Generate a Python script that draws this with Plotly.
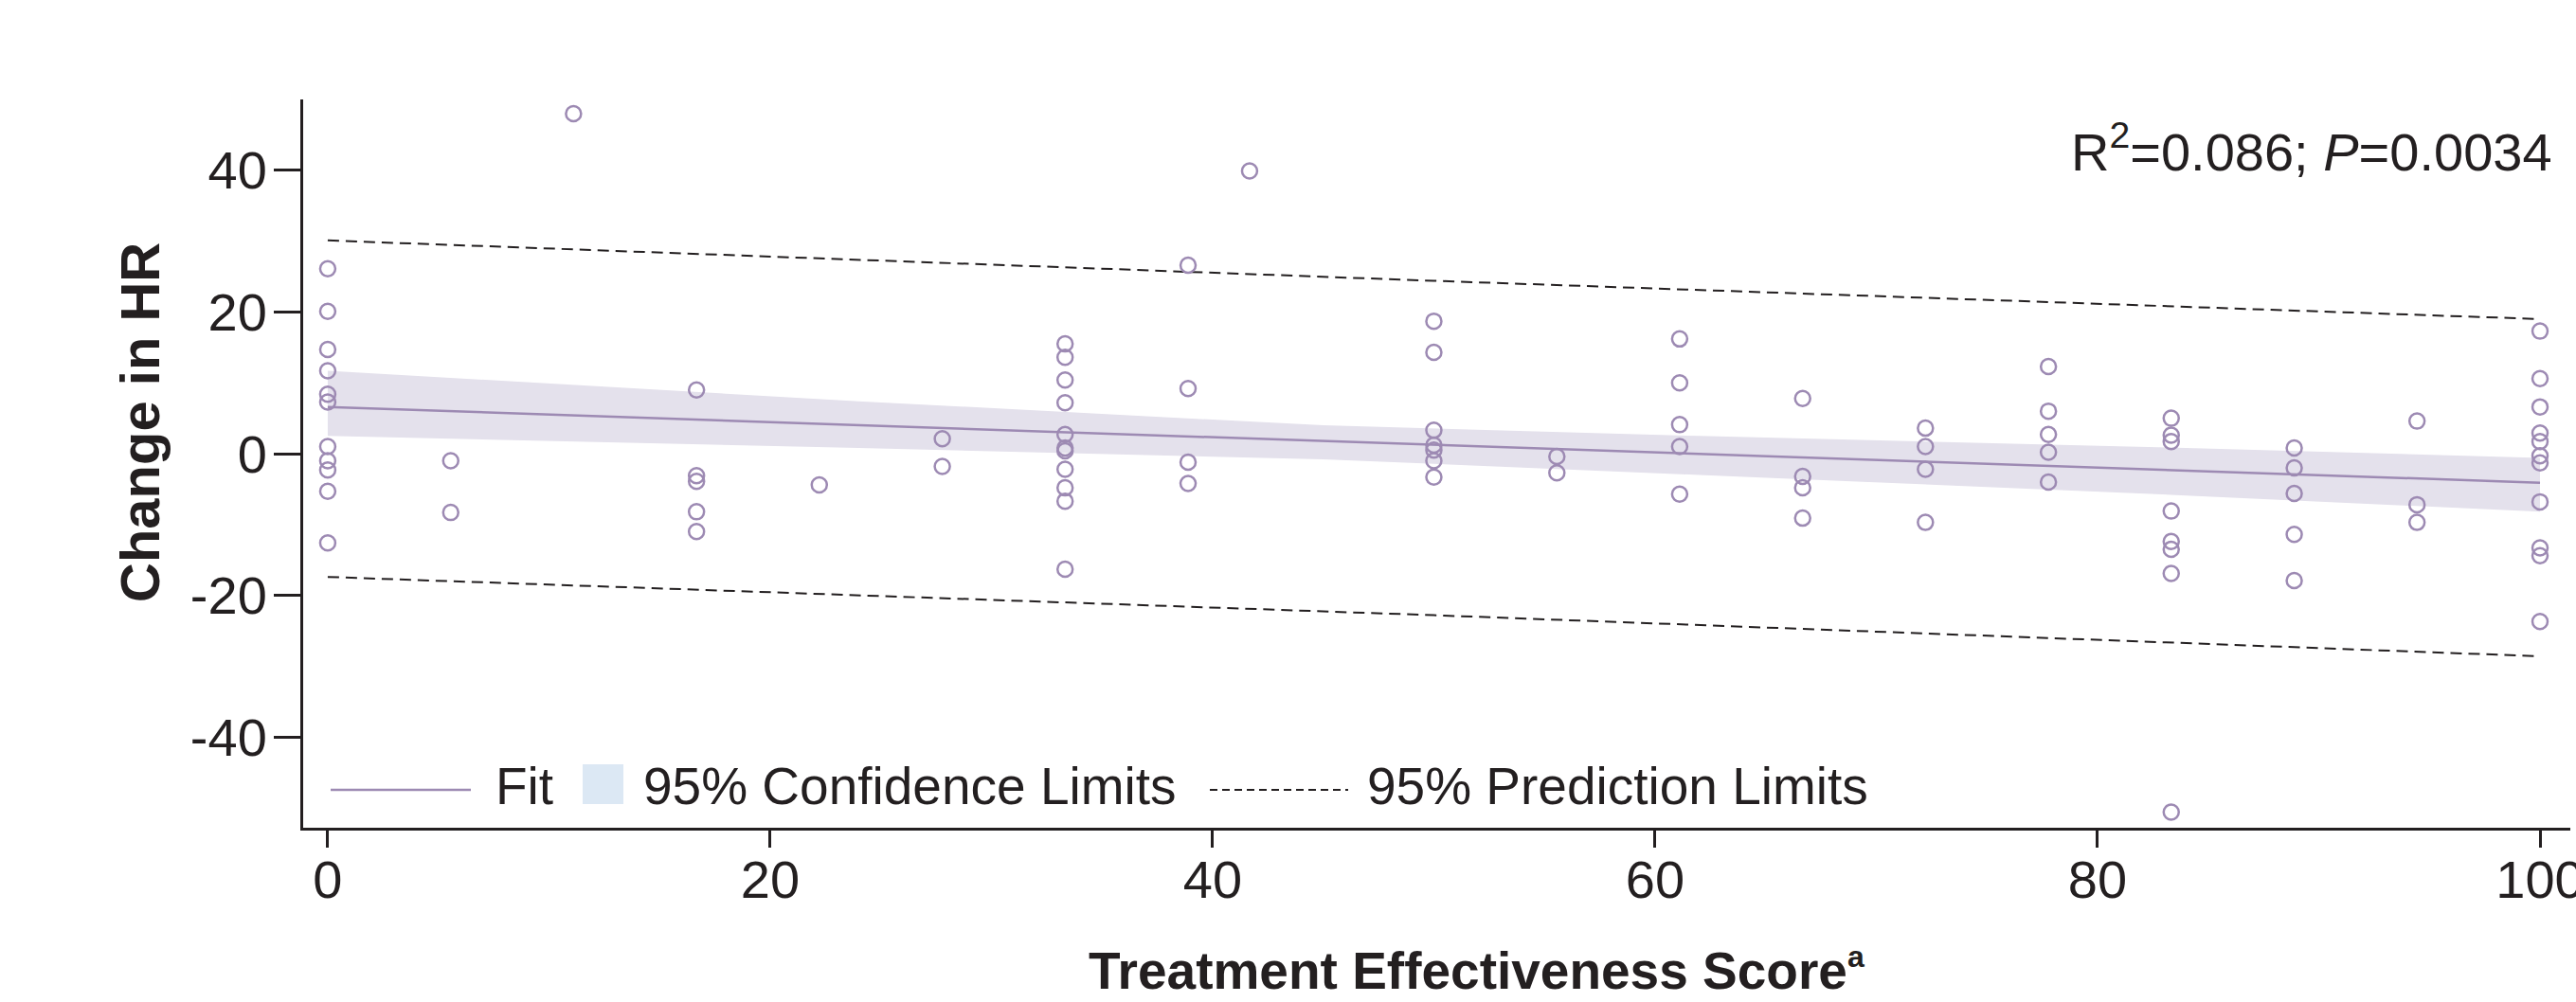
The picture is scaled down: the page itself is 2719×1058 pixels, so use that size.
import plotly.graph_objects as go

# ---- data -------------------------------------------------------------
# treatment effectiveness score (x) and change in heart rate (y), per patient
score = (
    [0.0] * 11 + [5.56] * 2 + [11.11] + [16.67] * 5 + [22.22] + [27.78] * 2
    + [33.33] * 11 + [38.89] * 4 + [41.67] + [50.0] * 7 + [55.56] * 2
    + [61.11] * 5 + [66.67] * 4 + [72.22] * 4 + [77.78] * 5 + [83.33] * 8
    + [88.89] * 5 + [94.44] * 3 + [100.0] * 11
)
change_hr = [
    26.1, 20.1, 14.7, 11.7, 8.4, 7.3, 1.0, -1.0, -2.3, -5.3, -12.6,   # 0
    -1.0, -8.3,                                                        # 5.56
    48.0,                                                              # 11.11
    9.0, -3.1, -3.9, -8.2, -11.0,                                      # 16.67
    -4.4,                                                              # 22.22
    2.1, -1.8,                                                         # 27.78
    15.5, 13.6, 10.4, 7.2, 2.7, 0.8, 0.4, -2.2, -4.8, -6.7, -16.3,     # 33.33
    26.6, 9.2, -1.2, -4.2,                                             # 38.89
    39.9,                                                              # 41.67
    18.7, 14.3, 3.3, 1.2, 0.5, -1.0, -3.3,                             # 50
    -0.4, -2.7,                                                        # 55.56
    16.2, 10.0, 4.1, 1.0, -5.7,                                        # 61.11
    7.8, -3.2, -4.8, -9.1,                                             # 66.67
    3.6, 1.0, -2.2, -9.7,                                              # 72.22
    12.3, 6.0, 2.7, 0.2, -4.0,                                         # 77.78
    5.0, 2.6, 1.7, -8.1, -12.4, -13.5, -16.9, -50.6,                   # 83.33
    0.8, -2.0, -5.6, -11.4, -17.9,                                     # 88.89
    4.6, -7.2, -9.7,                                                   # 94.44
    17.3, 10.6, 6.6, 2.9, 1.7, -0.3, -1.3, -6.8, -13.3, -14.4, -23.7,  # 100
]

# fitted regression line
fit_x = [0, 100]
fit_y = [6.6, -4.1]

# 95% confidence limits of the mean
ci_x = [0, 24, 45, 62, 84, 100]
ci_upper = [11.7, 7.4, 4.0, 2.5, 0.8, -0.6]
ci_lower = [2.5, 0.8, -0.8, -3.0, -5.9, -8.2]

# 95% prediction limits
pi_x = [0, 50, 100]
pi_upper = [30.1, 24.4, 19.0]
pi_lower = [-17.4, -22.8, -28.6]

# axis ticks
x_ticks = [0, 20, 40, 60, 80, 100]
x_tick_text = ["0", "20", "40", "60", "80", "100"]
y_ticks = [-40, -20, 0, 20, 40]
y_tick_text = ["-40", "-20", "0", "20", "40"]

stats_text = "R<sup>2</sup>=0.086; <i>P</i>=0.0034"
legend_labels = ["Fit", "95% Confidence Limits", "95% Prediction Limits"]
x_title = ("<b>Treatment Effectiveness Score"
           "<sup><span style='font-size:32px'>a</span></sup></b>")
y_title = "<b>Change in HR</b>"

# ---- styling ----------------------------------------------------------
W, H = 2719, 1058
ML, MR, MT, MB = 320, 6, 105, 184
FONT = "Liberation Sans, Arial, Helvetica, sans-serif"
INK = "#231f20"
PURPLE = "#9d8ab3"
BAND = "#e4e1ec"
LEGEND_BAND = "#dce8f4"

PW = W - ML - MR
PH = H - MT - MB


def px(xp):
    return (xp - ML) / PW


def py(yp):
    return (H - MB - yp) / PH


fig = go.Figure()

# confidence band
fig.add_trace(go.Scatter(
    x=ci_x + ci_x[::-1],
    y=ci_upper + ci_lower[::-1],
    fill="toself", fillcolor=BAND, line=dict(width=0),
    mode="lines", showlegend=False, hoverinfo="skip",
))

# prediction limits
for lim in (pi_upper, pi_lower):
    fig.add_trace(go.Scatter(
        x=pi_x, y=lim, mode="lines",
        line=dict(color=INK, width=2, dash="12px,7px"),
        showlegend=False, hoverinfo="skip",
    ))

# fitted line
fig.add_trace(go.Scatter(
    x=fit_x, y=fit_y, mode="lines",
    line=dict(color=PURPLE, width=2.5),
    showlegend=False, hoverinfo="skip",
))

# observations
fig.add_trace(go.Scatter(
    x=score, y=change_hr, mode="markers",
    marker=dict(symbol="circle-open", size=16, color=PURPLE,
                line=dict(width=2.5, color=PURPLE)),
    showlegend=False,
))

# ---- legend drawn inside the plot area --------------------------------
leg_y = 834
text_mid = 830
shapes = [
    dict(type="line", xref="paper", yref="paper",
         x0=px(349), x1=px(497), y0=py(leg_y), y1=py(leg_y),
         line=dict(color=PURPLE, width=2.5)),
    dict(type="rect", xref="paper", yref="paper",
         x0=px(615), x1=px(658), y0=py(849), y1=py(807),
         fillcolor=LEGEND_BAND, line=dict(width=0)),
    dict(type="line", xref="paper", yref="paper",
         x0=px(1277), x1=px(1423), y0=py(leg_y), y1=py(leg_y),
         line=dict(color=INK, width=2, dash="8px,5px")),
]
annotations = []
for label, left in zip(legend_labels, [521, 677, 1441]):
    annotations.append(dict(
        text=label, xref="paper", yref="paper", x=px(left), y=py(text_mid),
        xanchor="left", yanchor="middle", showarrow=False,
        font=dict(family=FONT, size=55, color=INK),
    ))

# statistics
annotations.append(dict(
    text=stats_text, xref="paper", yref="paper", x=px(2696), y=py(157),
    xanchor="right", yanchor="middle", showarrow=False,
    font=dict(family=FONT, size=56, color=INK),
))

# axis titles
annotations.append(dict(
    text=x_title,
    xref="paper", yref="paper", x=px(1558), y=py(1024),
    xanchor="center", yanchor="middle", showarrow=False,
    font=dict(family=FONT, size=55, color=INK),
))
annotations.append(dict(
    text=y_title, textangle=-90,
    xref="paper", yref="paper", x=px(147), y=py(446),
    xanchor="center", yanchor="middle", showarrow=False,
    font=dict(family=FONT, size=58, color=INK),
))

fig.update_layout(
    width=W, height=H,
    margin=dict(l=ML, r=MR, t=MT, b=MB, autoexpand=False),
    paper_bgcolor="white", plot_bgcolor="white",
    showlegend=False,
    shapes=shapes, annotations=annotations,
    font=dict(family=FONT, size=54, color=INK),
)
fig.update_xaxes(
    range=[-1.11, 101.37], showgrid=False, zeroline=False,
    showline=True, linecolor=INK, linewidth=3,
    ticks="outside", ticklen=18, tickwidth=3, tickcolor=INK,
    tickvals=x_ticks, ticktext=x_tick_text, automargin=False,
    ticklabeloverflow="allow", ticklabelstandoff=-14,
    tickfont=dict(family=FONT, size=56, color=INK),
)
fig.update_yaxes(
    range=[-52.8, 50], showgrid=False, zeroline=False,
    showline=True, linecolor=INK, linewidth=3,
    ticks="outside", ticklen=28, tickwidth=3, tickcolor=INK,
    tickvals=y_ticks, ticktext=y_tick_text, automargin=False,
    ticklabelstandoff=-4,
    tickfont=dict(family=FONT, size=56, color=INK),
)

fig.write_html("out.html")
